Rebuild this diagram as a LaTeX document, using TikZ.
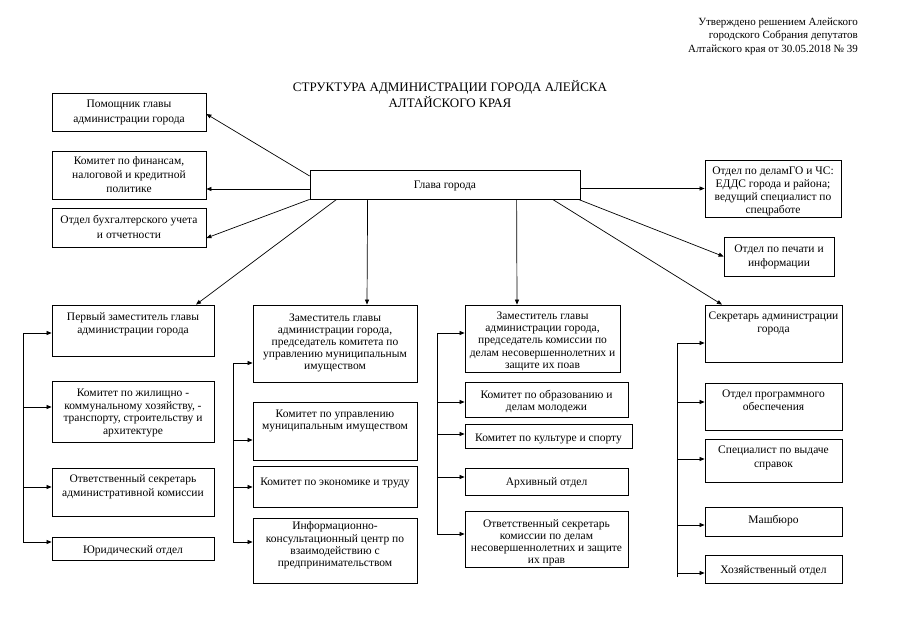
\documentclass[tikz,border=0pt]{standalone}
\usepackage{fontspec}
\setmainfont{Liberation Serif}
\usetikzlibrary{arrows.meta}
\tikzset{
  box/.style={draw, line width=0.8pt, inner sep=0pt, rectangle},
  txt/.style={inner sep=0pt, align=center, execute at begin node=\strut},
  arr/.style={line width=0.7pt, -{Triangle[length=5pt,width=4pt]}},
  spine/.style={line width=0.7pt},
  hdr/.style={anchor=east, inner sep=0pt, font=\fontsize{11}{13}\selectfont}
}
\newcommand\bx[8]{%
  \pgfmathsetmacro\bxw{#4-#2}\pgfmathsetmacro\bxh{#5-#3}%
  \pgfmathsetmacro\bxcx{(#2+#4)/2}\pgfmathsetmacro\bxcy{(#3+#5)/2}%
  \node[box, minimum width=\bxw pt, minimum height=\bxh pt] (#1) at (\bxcx,\bxcy) {};
  \node[txt, anchor=north, yshift=-#6pt, font=\fontsize{11.5}{#7}\selectfont] (#1t) at (#1.north) {#8};
}
\begin{document}
\begin{tikzpicture}[x=1pt,y=-1pt]
\useasboundingbox (0,0) rectangle (899,621);
% header
\node[hdr] (h1) at (858,23) {Утверждено решением Алейского};
\node[hdr] (h2) at (858,36) {городского Собрания депутатов};
\node[hdr] (h3) at (858,50) {Алтайского края от 30.05.2018 № 39};
\node[align=center, inner sep=0pt, font=\fontsize{13}{16}\selectfont] (title) at (450,94) {СТРУКТУРА АДМИНИСТРАЦИИ ГОРОДА АЛЕЙСКА\\АЛТАЙСКОГО КРАЯ};
% top boxes
\bx{asst}{52}{93}{206}{131}{7}{15}{Помощник главы\\администрации города}
\bx{fin}{52}{151}{206}{199}{6}{14}{Комитет по финансам,\\налоговой и кредитной\\политике}
\bx{acct}{52}{208}{206}{247}{7}{15}{Отдел бухгалтерского учета\\и отчетности}
\bx{glava}{310}{170}{580}{199}{10}{13}{Глава города}
\bx{go}{705}{160}{841}{217}{7}{13}{Отдел по деламГО и ЧС:\\ЕДДС города и района;\\ведущий специалист по\\спецработе}
\bx{pech}{724}{237}{834}{276}{8}{14}{Отдел по печати и\\информации}
% column 1
\bx{c1a}{52}{305}{214}{356}{8}{13}{Первый заместитель главы\\администрации города}
\bx{c1b}{52}{381}{214}{442}{8}{12.7}{Комитет по жилищно -\\коммунальному хозяйству, -\\транспорту, строительству и\\архитектуре}
\bx{c1c}{52}{468}{214}{516}{7}{14}{Ответственный секретарь\\административной комиссии}
\bx{c1d}{52}{537}{214}{560}{8}{13}{Юридический отдел}
% column 2
\bx{c2a}{253}{305}{417}{382}{9}{12}{Заместитель главы\\администрации города,\\председатель комитета по\\управлению муниципальным\\имуществом}
\bx{c2b}{253}{402}{417}{460}{8}{12.5}{Комитет по управлению\\муниципальным имуществом}
\bx{c2c}{253}{466}{417}{507}{11}{13}{Комитет по экономике и труду}
\bx{c2d}{253}{518}{417}{583}{4}{12.3}{Информационно-\\консультационный центр по\\взаимодействию с\\предпринимательством}
% column 3
\bx{c3a}{465}{305}{620}{372}{7}{12.2}{Заместитель главы\\администрации города,\\председатель комиссии по\\делам несовершеннолетних и\\защите их поав}
\bx{c3b}{465}{382}{628}{417}{8}{12}{Комитет по образованию и\\делам молодежи}
\bx{c3c}{465}{424}{632}{448}{9}{13}{Комитет по культуре и спорту}
\bx{c3d}{465}{468}{628}{495}{9}{13}{Архивный отдел}
\bx{c3e}{465}{511}{628}{567}{9}{12}{Ответственный секретарь\\комиссии по делам\\несовершеннолетних и защите\\их прав}
% column 4
\bx{c4a}{705}{305}{842}{362}{7}{13}{Секретарь администрации\\города}
\bx{c4b}{705}{383}{842}{430}{7}{13.5}{Отдел программного\\обеспечения}
\bx{c4c}{705}{439}{842}{482}{7}{14}{Специалист по выдаче\\справок}
\bx{c4d}{705}{507}{842}{536}{8}{13}{Машбюро}
\bx{c4e}{705}{555}{842}{583}{10}{13}{Хозяйственный отдел}
% connectors from Глава города
\draw[arr] ([yshift=8.5pt]glava.west) -- ([yshift=-2pt]asst.east);
\draw[arr] ([yshift=-4.5pt]glava.west) coordinate (f0) -- (f0 -| fin.east);
\draw[arr] (glava.south west) -- ([yshift=-10.5pt]acct.east);
\draw[arr] ([xshift=27pt]glava.south west) -- ([xshift=63pt]c1a.north);
\draw[arr] ([xshift=58pt]glava.south west) -- ([xshift=32pt]c2a.north);
\draw[arr] ([xshift=207pt]glava.south west) -- ([xshift=-25.5pt]c3a.north);
\draw[arr] ([xshift=243pt]glava.south west) -- ([xshift=-51.5pt]c4a.north);
\draw[arr] ([xshift=-2pt]glava.south east) -- (pech.west);
\draw[arr] (glava.east |- go.west) -- (go.west);
% spine column 1
\coordinate (s1a) at (23,333);
\coordinate (s1b) at (23,407);
\coordinate (s1c) at (23,487);
\coordinate (s1d) at (23,542);
\draw[spine] (s1a) -- (s1d);
\draw[arr] (s1a) -- (s1a -| c1a.west);
\draw[arr] (s1b) -- (s1b -| c1b.west);
\draw[arr] (s1c) -- (s1c -| c1c.west);
\draw[arr] (s1d) -- (s1d -| c1d.west);
% spine column 2
\coordinate (s2a) at (233,363);
\coordinate (s2b) at (233,440);
\coordinate (s2c) at (233,487);
\coordinate (s2d) at (233,542);
\draw[spine] (s2a) -- (s2d);
\draw[arr] (s2a) -- (s2a -| c2a.west);
\draw[arr] (s2b) -- (s2b -| c2b.west);
\draw[arr] (s2c) -- (s2c -| c2c.west);
\draw[arr] (s2d) -- (s2d -| c2d.west);
% spine column 3
\coordinate (s3a) at (437,333);
\coordinate (s3b) at (437,402);
\coordinate (s3c) at (437,434);
\coordinate (s3d) at (437,477);
\coordinate (s3e) at (437,534);
\draw[spine] (s3a) -- (s3e);
\draw[arr] (s3a) -- (s3a -| c3a.west);
\draw[arr] (s3b) -- (s3b -| c3b.west);
\draw[arr] (s3c) -- (s3c -| c3c.west);
\draw[arr] (s3d) -- (s3d -| c3d.west);
\draw[arr] (s3e) -- (s3e -| c3e.west);
% spine column 4
\coordinate (s4a) at (677,343);
\coordinate (s4b) at (677,402);
\coordinate (s4c) at (677,459);
\coordinate (s4d) at (677,525);
\coordinate (s4e) at (677,573);
\draw[spine] (s4a) -- ([yshift=-4pt]s4e);
\draw[arr] (s4a) -- (s4a -| c4a.west);
\draw[arr] (s4b) -- (s4b -| c4b.west);
\draw[arr] (s4c) -- (s4c -| c4c.west);
\draw[arr] (s4d) -- (s4d -| c4d.west);
\draw[arr] (s4e) -- (s4e -| c4e.west);
\end{tikzpicture}
\end{document}
